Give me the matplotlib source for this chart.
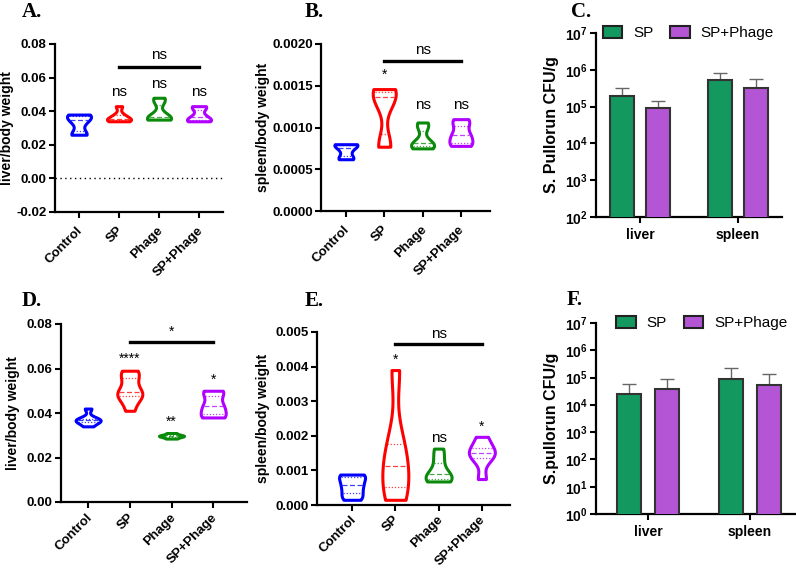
import numpy as np
import matplotlib
matplotlib.use("Agg")
import matplotlib.pyplot as plt
import matplotlib.transforms as mtransforms
from matplotlib.patches import Patch

plt.rcParams['font.family'] = ['Liberation Sans', 'DejaVu Sans']
plt.rcParams['mathtext.fontset'] = 'custom'
plt.rcParams['mathtext.bf'] = 'Liberation Sans:bold'
plt.rcParams['mathtext.rm'] = 'Liberation Sans'

groups = ['Control', 'SP', 'Phage', 'SP+Phage']
vcolors = ['#0000ff', '#ff0000', '#0a8a0a', '#b000ff']

# experiment 1 organ / body weight
liver1 = [[0.026, 0.0265, 0.033, 0.036, 0.0375, 0.038],
          [0.034, 0.0345, 0.035, 0.036, 0.038, 0.043],
          [0.035, 0.0355, 0.036, 0.037, 0.046, 0.048],
          [0.034, 0.0345, 0.035, 0.0375, 0.042, 0.043]]
spleen1 = [[0.00062, 0.00064, 0.00072, 0.00078, 0.0008, 0.0008],
           [0.00077, 0.00079, 0.00132, 0.0014, 0.00143, 0.00146],
           [0.00075, 0.00077, 0.0008, 0.00082, 0.001, 0.00106],
           [0.00078, 0.0008, 0.00088, 0.00093, 0.00105, 0.0011]]
# experiment 2
liver2 = [[0.034, 0.036, 0.0365, 0.037, 0.0375, 0.042],
          [0.041, 0.046, 0.048, 0.049, 0.050, 0.055, 0.058, 0.059],
          [0.0285, 0.0292, 0.0296, 0.0298, 0.0302, 0.031],
          [0.038, 0.0385, 0.042, 0.044, 0.049, 0.050]]
spleen2 = [[0.00015, 0.0003, 0.0005, 0.00065, 0.00085, 0.00088],
           [0.00015, 0.0004, 0.0009, 0.00135, 0.0019, 0.0039],
           [0.00068, 0.0007, 0.00085, 0.00095, 0.0013, 0.00163],
           [0.00075, 0.0013, 0.0015, 0.0015, 0.0017, 0.00197]]

# significance labels
sig_A = ['', 'ns', 'ns', 'ns']
sig_D = ['', '****', '**', '*']
sig_E = ['', '*', 'ns', '*']

# bacterial load
organs = ['liver', 'spleen']
bar_colors = ['#13995f', '#b455d6']
cfu1_sp = [2.0e5, 5.2e5]
cfu1_sp_err = [1.3e5, 2.8e5]
cfu1_ph = [9.0e4, 3.2e5]
cfu1_ph_err = [5.5e4, 2.4e5]
cfu2_sp = [2.6e4, 8.5e4]
cfu2_sp_err = [3.4e4, 1.45e5]
cfu2_ph = [3.8e4, 5.2e4]
cfu2_ph_err = [4.7e4, 7.8e4]

W, H = 796, 569
fig = plt.figure(figsize=(W / 100, H / 100), dpi=100)


def px_axes(l, t, r, b):
    return fig.add_axes([l / W, 1 - b / H, (r - l) / W, (b - t) / H])


def style(ax, ls=9.5):
    for s in ['top', 'right']:
        ax.spines[s].set_visible(False)
    for s in ['left', 'bottom']:
        ax.spines[s].set_linewidth(1.6)
    ax.tick_params(width=1.5, length=4, labelsize=ls, pad=2)
    for lab in ax.get_yticklabels() + ax.get_xticklabels():
        lab.set_fontweight('bold')


def violins(ax, data, bw, width=0.6):
    parts = ax.violinplot(data, positions=range(4), widths=width, bw_method=bw,
                          showextrema=False)
    for i, body in enumerate(parts['bodies']):
        body.set_facecolor('white')
        body.set_alpha(1)
        body.set_edgecolor(vcolors[i])
        body.set_linewidth(2.2)
        v = body.get_paths()[0].vertices
        right = v[v[:, 0] >= i]
        order = np.argsort(right[:, 1])
        for q, ls in [(50, (0, (4, 2))), (25, (0, (1, 1.5))), (75, (0, (1, 1.5)))]:
            y = np.percentile(data[i], q)
            hw = np.interp(y, right[order, 1], right[order, 0]) - i
            ax.plot([i - hw * 0.85, i + hw * 0.85], [y, y], color=vcolors[i],
                    lw=0.9, ls=ls, alpha=0.75)


def annotate(ax, data, sig, pad):
    for i, s in enumerate(sig):
        if s:
            f = 11 if s == 'ns' else 10
            ax.text(i, max(data[i]) + pad, s, ha='center', va='bottom', fontsize=f)


def bracket(ax, y, s, pad, fs=11):
    ax.plot([1, 3], [y, y], color='black', lw=2.4)
    ax.text(2, y + pad, s, ha='center', va='bottom', fontsize=fs)


def violin_panel(ax, data, bw, ylim, yticks, fmt, ylabel, xl, lab_x, xpad=8):
    violins(ax, data, bw)
    ax.set_xlim(*xl)
    ax.set_ylim(*ylim)
    ax.set_yticks(yticks)
    ax.set_yticklabels([fmt % t for t in yticks])
    ax.set_xticks(range(4))
    ax.set_xticklabels(groups, rotation=45, ha='right', va='center',
                       rotation_mode='anchor')
    ax.set_ylabel(ylabel, fontsize=10, fontweight='bold')
    style(ax)
    ax.tick_params(axis='x', pad=xpad)
    off = mtransforms.ScaledTranslation(2 / 100, 0, fig.dpi_scale_trans)
    for lab in ax.get_xticklabels():
        lab.set_transform(lab.get_transform() + off)
    # label position given in figure pixels (right edge of rotated text)
    pos = ax.get_position()
    ax.yaxis.set_label_coords((lab_x / W - pos.x0) / pos.width, 0.5)


# A
axA = px_axes(55, 44, 223, 212)
violin_panel(axA, liver1, 0.5, (-0.02, 0.08), np.arange(-0.02, 0.081, 0.02), '%.2f',
             'liver/body weight', (-0.6, 3.6), 14)
axA.axhline(0, color='black', lw=1, ls=(0, (1, 2.5)))
annotate(axA, liver1, sig_A, 0.004)
bracket(axA, 0.0665, 'ns', 0.003)

# B
axB = px_axes(321, 44, 490, 211)
violin_panel(axB, spleen1, 0.5, (0, 0.002), np.arange(0, 0.00201, 0.0005), '%.4f',
             'spleen/body weight', (-0.65, 3.76), 270)
axB.text(1, 0.00155, '*', ha='center', va='bottom', fontsize=10)
for i in [2, 3]:
    axB.text(i, 0.00119, 'ns', ha='center', va='bottom', fontsize=11)
bracket(axB, 0.0018, 'ns', 0.00005)

# D
axD = px_axes(61, 324, 247, 502)
violin_panel(axD, liver2, 0.5, (0, 0.08), np.arange(0, 0.081, 0.02), '%.2f',
             'liver/body weight', (-0.65, 3.81), 20, xpad=6)
annotate(axD, liver2, sig_D, 0.002)
bracket(axD, 0.072, '*', 0.0015, 10)

# E
axE = px_axes(317, 332, 510, 505)
violin_panel(axE, spleen2, 0.5, (0, 0.005), np.arange(0, 0.0051, 0.001), '%.3f',
             'spleen/body weight', (-0.81, 3.65), 270, xpad=5)
annotate(axE, spleen2, sig_E, 0.0001)
bracket(axE, 0.00465, 'ns', 0.0001)


def bar_panel(ax, sp, sp_err, ph, ph_err, ylo, ylabel, xl, off, bw, leg_x):
    x = np.arange(len(organs))
    ax.set_yscale('log')
    for xs, v, e, c, lab in [(x - off, sp, sp_err, bar_colors[0], 'SP'),
                             (x + off, ph, ph_err, bar_colors[1], 'SP+Phage')]:
        ax.bar(xs, v, bw, color=c, edgecolor='#333333', lw=1.5, label=lab, zorder=3)
        ax.errorbar(xs, v, yerr=[np.zeros(len(v)), e], fmt='none', ecolor='#666666',
                    elinewidth=1, capsize=5, capthick=1, zorder=2)
    ax.set_ylim(10.0 ** ylo, 1e7)
    ticks = np.arange(ylo, 8)
    ax.set_yticks(10.0 ** ticks)
    ax.set_yticklabels([r'$\mathbf{10^{%d}}$' % t for t in ticks])
    ax.minorticks_off()
    ax.set_xticks(x)
    ax.set_xticklabels(organs)
    ax.set_xlim(*xl)
    ax.set_ylabel(ylabel, fontsize=11.5, fontweight='bold', labelpad=4)
    style(ax, 10)
    ax.tick_params(axis='x', pad=4)
    handles = [Patch(facecolor=bar_colors[0], edgecolor='#222222', lw=1.5),
               Patch(facecolor=bar_colors[1], edgecolor='#222222', lw=1.5)]
    ax.legend(handles, ['SP', 'SP+Phage'], ncol=2, frameon=False, fontsize=11,
              loc='center left', bbox_to_anchor=(leg_x, 1.0), handlelength=1.3,
              handleheight=0.8, handletextpad=0.7, columnspacing=1.1,
              borderpad=0, borderaxespad=0)


# C
axC = px_axes(596, 33, 782, 217)
bar_panel(axC, cfu1_sp, cfu1_sp_err, cfu1_ph, cfu1_ph_err, 2, 'S. Pullorun CFU/g',
          (-0.45, 1.45), 0.185, 0.245, 0.035)

# F
axF = px_axes(596, 323, 795, 514)
bar_panel(axF, cfu2_sp, cfu2_sp_err, cfu2_ph, cfu2_ph_err, 0, 'S.pullorun CFU/g',
          (-0.51, 1.44), 0.186, 0.235, 0.1)

# panel letters
for lab, x, y in [('A.', 32, 12), ('B.', 314, 12), ('C.', 581, 12),
                  ('D.', 32, 301), ('E.', 314, 301), ('F.', 575, 300)]:
    fig.text(x / W, 1 - y / H, lab, family='Liberation Serif', fontweight='bold',
             fontsize=15, ha='center', va='center')

fig.savefig('out.png', dpi=100)
